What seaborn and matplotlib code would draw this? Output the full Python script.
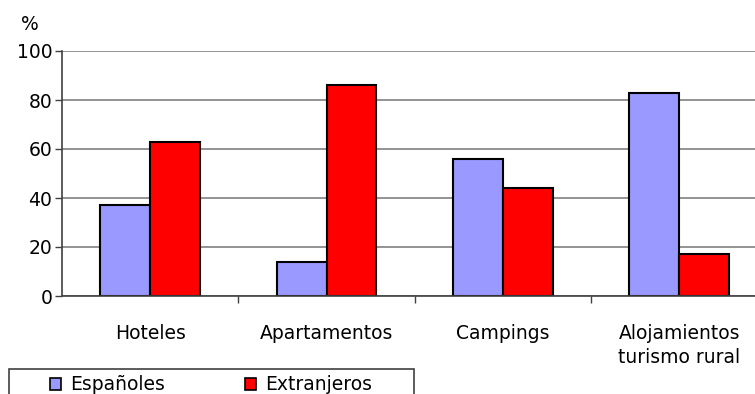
import pandas as pd
import matplotlib.pyplot as plt
import matplotlib.patches as mpatches
import seaborn as sns

# ==============================================================================
# DATOS
# ==============================================================================
categorias = ['Hoteles', 'Apartamentos', 'Campings', 'Alojamientos\nturismo rural']
espanoles = [37.3, 13.7, 56.1, 83.0]
extranjeros = [62.7, 86.3, 43.9, 17.0]
series = ['Españoles', 'Extranjeros']
ticks_y = [0, 20, 40, 60, 80, 100]

colores = {'Españoles': '#9999FF', 'Extranjeros': '#FF0000'}

df = pd.DataFrame({
    'categoria': categorias * 2,
    'origen': [series[0]] * 4 + [series[1]] * 4,
    'valor': espanoles + extranjeros,
})

# ==============================================================================
# ESTILO
# ==============================================================================
sns.set_style("white")
plt.rcParams['font.family'] = ['DejaVu Sans']
plt.rcParams['text.color'] = 'black'
plt.rcParams['xtick.color'] = 'black'
plt.rcParams['ytick.color'] = 'black'
FS = 13.5
GRIS = '#404040'

fig = plt.figure(figsize=(7.55, 3.94), dpi=100)
ax = fig.add_axes([62 / 755, 98 / 394, 1 - 62 / 755, (296 - 51) / 394])

sns.barplot(
    data=df, x='categoria', y='valor', hue='origen',
    palette=colores, width=0.566, edgecolor='black', linewidth=1.5,
    saturation=1, legend=False, ax=ax
)

ax.set_ylim(0, 100)
ax.set_xlim(-0.5, 3.43)
ax.set_yticks(ticks_y)
ax.set_yticklabels([str(t) for t in ticks_y], fontsize=FS)
ax.yaxis.grid(True, color='#808080', linewidth=1.2)
ax.set_axisbelow(True)
ax.tick_params(axis='y', length=5, width=1, color=GRIS, labelcolor='black', pad=2, left=True)

# ticks entre categorias y etiquetas centradas
ax.set_xticks([0.5, 1.5, 2.5])
ax.set_xticklabels([])
ax.tick_params(axis='x', which='major', length=5, width=1, color=GRIS, bottom=True)
ax.set_xticks(range(len(categorias)), minor=True)
ax.set_xticklabels(categorias, minor=True, fontsize=FS, linespacing=1.35)
ax.tick_params(axis='x', which='minor', length=0, pad=20, labelcolor='black')

ax.set_xlabel('')
ax.set_ylabel('')
for lado in ['top', 'right']:
    ax.spines[lado].set_visible(False)
for lado in ['left', 'bottom']:
    ax.spines[lado].set_color(GRIS)
    ax.spines[lado].set_linewidth(1.2)

fig.text(30 / 755, 1 - 25 / 394, '%', ha='center', va='center', fontsize=FS)

# ==============================================================================
# LEYENDA
# ==============================================================================
handles = [mpatches.Patch(facecolor=colores[s], edgecolor='black', linewidth=1.2) for s in series]
fig.legend(
    handles, series, loc='center left',
    bbox_to_anchor=(50 / 755, 1 - 385 / 394),
    ncol=2, frameon=False, fontsize=FS,
    handlelength=0.6, handleheight=0.6, handletextpad=0.45,
    columnspacing=4.3, borderpad=0, borderaxespad=0
)
marco = mpatches.Rectangle((9 / 755, -0.05), 405 / 755, 0.05 + (394 - 369) / 394,
                           transform=fig.transFigure, fill=False,
                           edgecolor=GRIS, linewidth=1.2)
fig.patches.append(marco)

fig.savefig('out.png', dpi=100)
